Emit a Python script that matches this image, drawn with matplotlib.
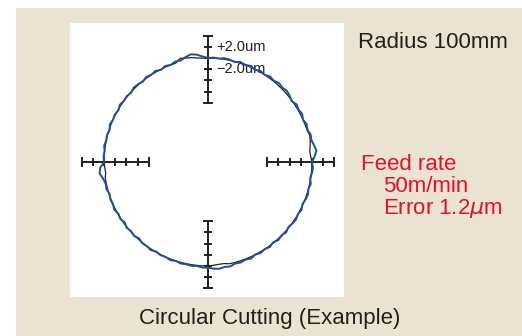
import numpy as np
import matplotlib
matplotlib.use("Agg")
import matplotlib.pyplot as plt

# measured radial deviation (um), every 3 degrees from 0 deg (east), counter-clockwise
angles_deg = list(range(0, 360, 3))
measured_um = [0.0, 0.5, 0.9, 0.6, 0.3, 0.4, 0.1, 0.3, 0.0, 0.3,
               0.1, 0.3, -0.1, 0.2, 0.4, 0.2, 0.4, 0.1, 0.3, 0.0,
               0.2, -0.1, 0.2, 0.0, 0.2, -0.1, 0.1, 0.2, 0.0, 0.1,
               0.0, 0.3, 0.7, 0.9, 0.6, 0.2, 0.3, 0.0, 0.2, -0.1,
               0.2, 0.0, 0.2, -0.1, 0.1, 0.2, -0.1, 0.1, 0.0, 0.2,
               -0.1, 0.1, 0.0, 0.2, -0.1, 0.1, 0.0, 0.2, 0.0, 0.1,
               0.0, 0.7, 0.9, 0.4, 0.1, 0.2, -0.1, 0.1, 0.0, 0.2,
               -0.1, 0.1, -0.2, 0.1, -0.1, 0.1, -0.2, 0.1, 0.0, 0.2,
               -0.1, 0.1, 0.0, 0.2, 0.0, 0.2, 0.1, 0.2, 0.1, 0.3,
               0.3, 0.5, 0.6, 0.4, 0.5, 0.2, 0.3, 0.1, 0.3, 0.0,
               0.2, 0.0, 0.2, -0.1, 0.2, 0.0, 0.2, -0.1, 0.1, 0.2,
               0.0, 0.2, -0.1, 0.1, 0.2, 0.0, 0.2, -0.1, 0.1, 0.2]
# reference (command) trace, same angles
reference_um = [0.0, -0.2, -0.3, -0.1, 0.1, 0.2, 0.0, 0.0, 0.0, 0.0,
                0.0, 0.0, 0.0, 0.0, 0.0, 0.0, 0.0, 0.0, 0.0, 0.0,
                0.0, 0.0, 0.0, 0.0, 0.0, 0.0, 0.0, 0.0, 0.0, 0.0,
                0.0, 0.0, 0.1, 0.3, 0.4, 0.6, 0.0, 0.0, 0.0, 0.0,
                0.0, 0.0, 0.0, 0.0, 0.0, 0.0, 0.0, 0.0, 0.0, 0.0,
                0.0, 0.0, 0.0, 0.0, 0.0, 0.0, 0.0, 0.0, 0.0, 0.0,
                0.0, -0.1, -0.2, 0.0, 0.0, 0.0, 0.0, 0.0, 0.0, 0.0,
                0.0, 0.0, 0.0, 0.0, 0.0, 0.0, 0.0, 0.0, 0.0, 0.0,
                0.0, 0.0, 0.0, 0.0, 0.0, 0.0, 0.0, 0.0, 0.0, 0.0,
                0.0, -0.1, -0.2, -0.2, 0.0, 0.0, 0.0, 0.0, 0.0, 0.0,
                0.0, 0.0, 0.0, 0.0, 0.0, 0.0, 0.0, 0.0, 0.0, 0.0,
                0.0, 0.0, 0.0, 0.0, 0.0, 0.0, 0.0, 0.0, 0.0, 0.0]
axis_angles = [0, 90, 180, 270]
tick_steps = [2, 1, 0, -1, -2, -3, -4]   # ticks in units of 2.0 um, + is outward
scale_labels = ["+2.0um", "\u22122.0um"]

BEIGE = "#EAE3D2"
BLUE = "#1B4FA8"
RED = "#E60E2A"
DARK = "#231F1C"

R0 = 104.0          # drawn radius of the nominal circle
PX_PER_UM = 5.6     # radial magnification


def to_xy(ang_deg, dev_um):
    a = np.deg2rad(np.append(ang_deg, ang_deg[0]))
    r = R0 + PX_PER_UM * np.append(dev_um, dev_um[0])
    return r * np.cos(a), r * np.sin(a)


W, H = 522, 336
fig = plt.figure(figsize=(W / 100, H / 100), dpi=100, facecolor="white")

# beige panel behind everything
bg = fig.add_axes([16 / W, 0, 1 - 16 / W, 1 - 8 / H])
bg.set_facecolor(BEIGE)
bg.set_xticks([]); bg.set_yticks([])
for s in bg.spines.values():
    s.set_visible(False)
bg.set_zorder(0)

ax = fig.add_axes([70 / W, 1 - 297 / H, 274 / W, 274 / H])
ax.set_zorder(1)
ax.set_facecolor("white")
ax.set_xlim(-138, 136)
ax.set_ylim(-135, 139)
ax.set_aspect("equal")
for s in ax.spines.values():
    s.set_visible(False)
ax.set_xticks([]); ax.set_yticks([])

# scale bars on each axis
step = 2.0 * PX_PER_UM
for ang in axis_angles:
    c, s = np.cos(np.deg2rad(ang)), np.sin(np.deg2rad(ang))
    r_out = R0 + max(tick_steps) * step
    r_in = R0 + min(tick_steps) * step
    ax.plot([r_in * c, r_out * c], [r_in * s, r_out * s], color=DARK, lw=1.4, zorder=2)
    for k in tick_steps:
        r = R0 + k * step
        half = 4.2 if k in (max(tick_steps), min(tick_steps)) else 3.4
        ax.plot([r * c - half * s, r * c + half * s], [r * s - half * c, r * s + half * c],
                color=DARK, lw=1.4, zorder=2)

for k, lab in zip([1, -1], scale_labels):
    ax.text(8, R0 + k * step, lab, fontsize=10.5, family="Liberation Sans",
            color=DARK, va="center", ha="left", zorder=1)

xr, yr = to_xy(angles_deg, reference_um)
ax.plot(xr, yr, color="#222222", lw=0.9, zorder=3)
xm, ym = to_xy(angles_deg, measured_um)
ax.plot(xm, ym, color=BLUE, lw=1.4, zorder=4)

font = dict(family="Liberation Sans", fontsize=16, va="baseline")
fig.text(358 / W, 1 - 48 / H, "Radius 100mm", color=DARK, **font)
fig.text(361 / W, 1 - 170 / H, "Feed rate", color=RED, **font)
fig.text(383 / W, 1 - 192 / H, "50m/min", color=RED, **font)
fig.text(383 / W, 1 - 214 / H, r"Error 1.2$\mu$m", color=RED, **font)
fig.text(270 / W, 1 - 324 / H, "Circular Cutting (Example)", color=DARK,
         ha="center", **font)

fig.savefig("out.png", dpi=100, facecolor="white")
